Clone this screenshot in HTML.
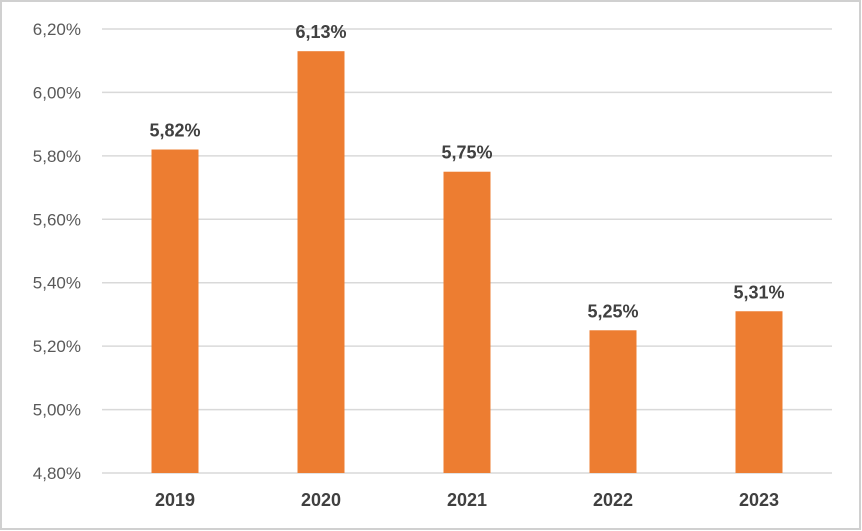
<!DOCTYPE html>
<html><head><meta charset="utf-8"><style>
html,body{margin:0;padding:0;background:#fff}
svg{display:block;font-family:"Liberation Sans",Arial,sans-serif}
</style></head><body>
<svg id="chart" width="862" height="531">
<rect x="1" y="1" width="859" height="528" fill="#fff" stroke="#d0d0d0" stroke-width="2"/>
<g id="grid"></g><g id="bars"></g><g id="labels"></g>
</svg>
<script>
const categories = ["2019","2020","2021","2022","2023"];
const values = [5.82, 6.13, 5.75, 5.25, 5.31];
const valueLabels = ["5,82%","6,13%","5,75%","5,25%","5,31%"];
const ticks = [4.80,5.00,5.20,5.40,5.60,5.80,6.00,6.20];
const tickLabels = ["4,80%","5,00%","5,20%","5,40%","5,60%","5,80%","6,00%","6,20%"];

const NS="http://www.w3.org/2000/svg";
const x0=102,x1=832,yTop=29,yBot=473,vMin=4.8,vMax=6.2;
const y=v=>yBot-(v-vMin)/(vMax-vMin)*(yBot-yTop);
const band=(x1-x0)/categories.length;
const xc=i=>x0+band*(i+0.5);
const bw=47;
function mk(tag,attrs,parent,text){const e=document.createElementNS(NS,tag);for(const k in attrs)e.setAttribute(k,attrs[k]);if(text!=null)e.textContent=text;parent.appendChild(e);return e;}
const grid=document.getElementById('grid'),bars=document.getElementById('bars'),labels=document.getElementById('labels');
ticks.forEach((t,i)=>{
  const l=mk('line',{x1:x0,x2:x1,y1:y(t),y2:y(t),stroke:'#d9d9d9','stroke-width':1.5},grid);
  
  
  const tx=mk('text',{x:81,y:y(t)+6,'text-anchor':'end','font-size':17,fill:'#595959'},grid,tickLabels[i]);
  
  
});
values.forEach((v,i)=>{
  const r=mk('rect',{x:xc(i)-bw/2,y:y(v),width:bw,height:yBot-y(v),fill:'#ed7d31'},bars);
  
  
  const vl=mk('text',{x:xc(i),y:y(v)-13,'text-anchor':'middle','font-size':18,'font-weight':'bold',fill:'#404040'},labels,valueLabels[i]);
  
  
  const cl=mk('text',{x:xc(i),y:506,'text-anchor':'middle','font-size':18,'font-weight':'bold',fill:'#404040'},labels,categories[i]);
  
  
});
</script>
</body></html>
